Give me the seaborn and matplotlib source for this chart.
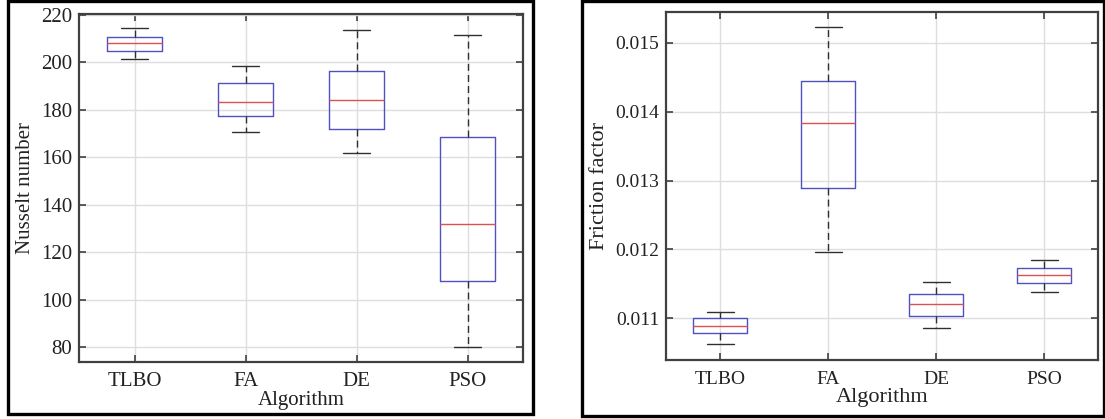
import numpy as np
import pandas as pd
import seaborn as sns
import matplotlib
matplotlib.use("Agg")
import matplotlib.pyplot as plt
from matplotlib.patches import Rectangle

algorithms = ["TLBO", "FA", "DE", "PSO"]

# Nusselt number: box statistics per algorithm
nu_min = [201.4, 170.7, 161.7, 80.2]
nu_q1 = [204.6, 177.2, 171.8, 107.8]
nu_med = [208.3, 183.5, 184.3, 132.0]
nu_q3 = [210.7, 191.5, 196.2, 168.7]
nu_max = [214.4, 198.4, 213.6, 211.6]

# Friction factor: box statistics per algorithm
ff_min = [0.010626, 0.011967, 0.010855, 0.011378]
ff_q1 = [0.010782, 0.012894, 0.011033, 0.011518]
ff_med = [0.010888, 0.013834, 0.011204, 0.011630]
ff_q3 = [0.011000, 0.014445, 0.011358, 0.011727]
ff_max = [0.011097, 0.015233, 0.011524, 0.011848]

nu_ticks = [80, 100, 120, 140, 160, 180, 200, 220]
ff_ticks = [0.011, 0.012, 0.013, 0.014, 0.015]


def long_table(mins, q1s, meds, q3s, maxs, name):
    rows = []
    for a, lo, q1, md, q3, hi in zip(algorithms, mins, q1s, meds, q3s, maxs):
        for v in (lo, q1, md, q3, hi):
            rows.append({"Algorithm": a, name: v})
    return pd.DataFrame(rows)


df_nu = long_table(nu_min, nu_q1, nu_med, nu_q3, nu_max, "Nusselt number")
df_ff = long_table(ff_min, ff_q1, ff_med, ff_q3, ff_max, "Friction factor")

sns.set_theme(style="white")
plt.rcParams["font.family"] = ["Liberation Serif", "DejaVu Serif"]
plt.rcParams["axes.unicode_minus"] = False

fig = plt.figure(figsize=(11.05, 4.19), dpi=100)
W, H = 1105, 419


def fx(px):
    return px / W


def fy(py):
    return 1 - py / H


# outer panel frames
for x0, x1, y0, y1 in [(8, 533, 1, 414), (582, 1104, 1, 416)]:
    fig.patches.append(Rectangle((fx(x0), fy(y1)), fx(x1 - x0), (y1 - y0) / H,
                                 transform=fig.transFigure, fill=False,
                                 edgecolor="black", linewidth=2.4, zorder=0))

ax1 = fig.add_axes([fx(79), fy(362), fx(523 - 79), (362 - 14) / H])
ax2 = fig.add_axes([fx(666), fy(360), fx(1098 - 666), (360 - 12.3) / H])

box_kw = dict(
    order=algorithms, width=0.5, whis=(0, 100), fill=False,
    boxprops=dict(color="#5050c0", linewidth=1.0),
    medianprops=dict(color="#e05050", linewidth=1.0),
    whiskerprops=dict(color="#303030", linewidth=1.0, linestyle=(0, (5, 3))),
    capprops=dict(color="#303030", linewidth=1.0),
    showfliers=False,
)

sns.boxplot(data=df_nu, x="Algorithm", y="Nusselt number", ax=ax1, **box_kw)
sns.boxplot(data=df_ff, x="Algorithm", y="Friction factor", ax=ax2, **box_kw)

for ax, ticks, ylim, fs, lfs, xpad in [(ax1, nu_ticks, (73.7, 220.4), 15, 15, 7),
                                       (ax2, ff_ticks, (0.010393, 0.015446), 14, 16, 8)]:
    ax.set_xlim(-0.5, 3.5)
    ax.set_ylim(*ylim)
    ax.set_yticks(ticks)
    if ax is ax2:
        ax.set_yticklabels([f"{t:.3f}" for t in ticks])
    else:
        ax.set_yticklabels([str(t) for t in ticks])
    ax.set_axisbelow(True)
    ax.grid(True, color="#dedede", linewidth=1.0)
    ax.tick_params(direction="in", top=True, right=True, left=True, bottom=True,
                   length=5, width=1.2, color="#404040", labelsize=fs,
                   labelcolor="#222222", pad=5)
    ax.tick_params(axis="x", pad=xpad)
    for s in ax.spines.values():
        s.set_color("#404040")
        s.set_linewidth(1.6)
    ax.xaxis.label.set_size(lfs)
    ax.yaxis.label.set_size(lfs)
    ax.xaxis.label.set_color("#222222")
    ax.yaxis.label.set_color("#222222")
    ax.xaxis.labelpad = 0
    ax.yaxis.labelpad = 4

fig.savefig("out.png", dpi=100)
